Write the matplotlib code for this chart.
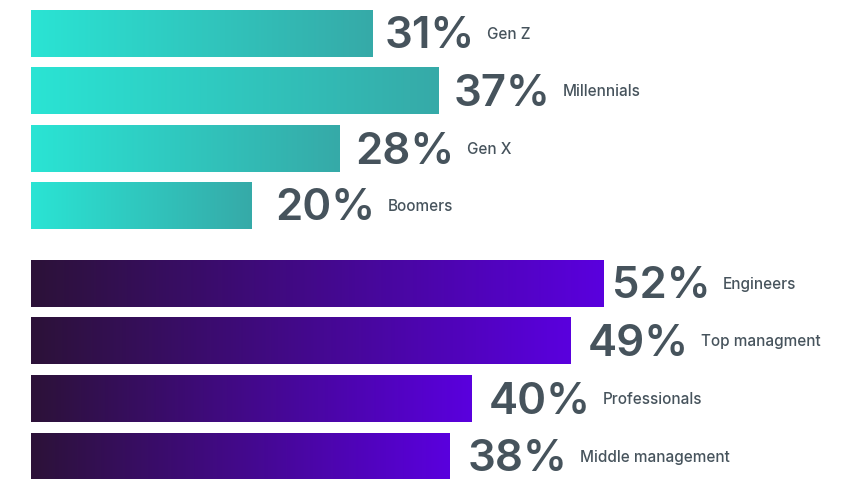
import numpy as np
import matplotlib
matplotlib.use("Agg")
import matplotlib.pyplot as plt
from matplotlib.colors import LinearSegmentedColormap

# ---- data ----
gen_labels = ["Gen Z", "Millennials", "Gen X", "Boomers"]
gen_values = [31, 37, 28, 20]
role_labels = ["Engineers", "Top managment", "Professionals", "Middle management"]
role_values = [52, 49, 40, 38]

# ---- layout (pixel units on the y axis) ----
W, H = 850, 479
x0_px = 31
px_per_pct = 11.0
gen_centers = [33, 90.5, 148.5, 205.5]
role_centers = [283.5, 340.5, 398.5, 456]
gen_gaps_px = [14, 17, 18, 26]
role_gaps_px = [10, 19, 19, 20]
bar_h = 47

teal = LinearSegmentedColormap.from_list("teal", ["#2AE4D4", "#36AAA8"])
purple = LinearSegmentedColormap.from_list("purple", ["#2C1238", "#5A00DE"])

txt_color = "#46535C"
plt.rcParams['font.family'] = ['Inter', 'DejaVu Sans']

fig = plt.figure(figsize=(W / 100, H / 100), dpi=100)
ax = fig.add_axes([0, 0, 1, 1])
ax.set_xlim(-x0_px / px_per_pct, (W - x0_px) / px_per_pct)
ax.set_ylim(H, 0)
ax.axis("off")

grad = np.linspace(0, 1, 256).reshape(1, -1)
PT = 72 / 100  # points per pixel

def draw_group(labels, values, centers, gaps, cmap):
    bars = ax.barh(centers, values, height=bar_h, left=0, color="none", edgecolor="none")
    for bar, lab, val, yc, g in zip(bars, labels, values, centers, gaps):
        x, y = bar.get_x(), bar.get_y()
        w, h = bar.get_width(), bar.get_height()
        im = ax.imshow(grad, cmap=cmap, aspect="auto",
                       extent=(x, x + w, y + h, y), interpolation="bicubic", zorder=2)
        im.set_clip_path(bar)
        pct = ax.annotate(f"{val}%", xy=(val, yc), xytext=(g * PT - 1, -10.8),
                          textcoords="offset points", ha="left", va="baseline",
                          fontsize=31.5, fontweight="semibold", color=txt_color)
        ax.annotate(lab, xy=(1, yc), xycoords=(pct, "data"), xytext=(9, -4.3),
                    textcoords="offset points", ha="left", va="baseline",
                    fontsize=11, fontweight="medium", color=txt_color)

draw_group(gen_labels, gen_values, gen_centers, gen_gaps_px, teal)
draw_group(role_labels, role_values, role_centers, role_gaps_px, purple)

fig.savefig("out.png", dpi=100, facecolor="white")
